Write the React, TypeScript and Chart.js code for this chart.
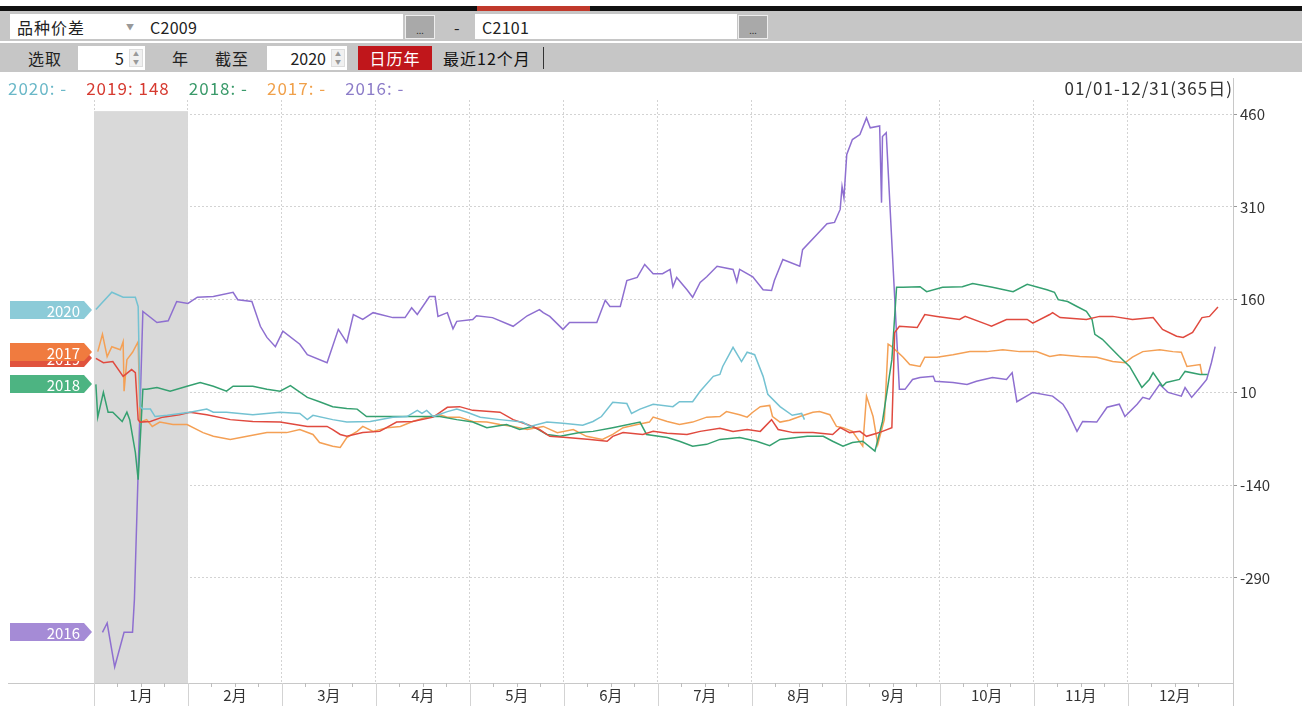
import React, { useEffect, useRef } from "react";
import { Chart, registerables } from "chart.js";
Chart.register(...registerables);

const FONT = '"Noto Sans CJK SC", "Noto Sans", sans-serif';

const monthLabels = ["1月", "2月", "3月", "4月", "5月", "6月", "7月", "8月", "9月", "10月", "11月", "12月"];
const yTickValues = [460, 310, 160, 10, -140, -290];
const yearNames = ["2020", "2019", "2018", "2017", "2016"];
const legendValues = ["-", "148", "-", "-", "-"];
const lineColors = ["#74c2d2", "#e04a3f", "#35a070", "#f4a055", "#8e6fd0"];
const legendColors = ["#6ab8c8", "#d63a30", "#3a9a6a", "#f0a04a", "#8c7cc8"];
const tagColors = ["#8ccbd8", "#e0533d", "#4db482", "#f07b3f", "#a58bd6"];

// x positions are in month units (0 = Jan 1, 1 = Feb 1, ...)
const pos2020 = [0.02, 0.19, 0.31, 0.44, 0.47, 0.49, 0.52, 0.6, 0.65, 0.78, 1.02, 1.2, 1.27, 1.41, 1.69, 1.98, 2.19, 2.27, 2.33, 2.54, 2.69, 2.94, 3.18, 3.33, 3.44, 3.49, 3.54, 3.61, 3.76, 3.86, 3.97, 4.11, 4.32, 4.56, 4.64, 4.82, 4.99, 5.2, 5.31, 5.4, 5.52, 5.67, 5.72, 5.81, 5.95, 6.16, 6.23, 6.37, 6.45, 6.59, 6.66, 6.69, 6.8, 6.89, 6.95, 7.03, 7.12, 7.17, 7.3, 7.43, 7.53, 7.56];
const val2020 = [144, 172, 164, 164, 149, -13, -17, -17, -29, -27, -22, -17, -22, -22, -26, -22, -24, -34, -27, -34, -38, -37, -30, -29, -19, -24, -19, -29, -21, -17, -22, -30, -34, -38, -45, -38, -40, -43, -37, -29, -6, -8, -24, -17, -9, -13, -5, -5, 12, 36, 39, 52, 83, 60, 75, 71, 36, 7, -13, -27, -24, -34];

const pos2019 = [0.02, 0.1, 0.2, 0.31, 0.4, 0.44, 0.47, 0.49, 0.6, 0.73, 0.91, 1.02, 1.2, 1.45, 1.69, 1.98, 2.27, 2.48, 2.54, 2.62, 2.69, 2.86, 3.04, 3.22, 3.39, 3.61, 3.76, 3.89, 4.03, 4.32, 4.46, 4.61, 4.74, 4.85, 5.03, 5.28, 5.46, 5.52, 5.63, 5.84, 5.95, 6.1, 6.31, 6.45, 6.66, 6.8, 6.95, 7.09, 7.21, 7.28, 7.44, 7.65, 7.86, 7.94, 8.04, 8.15, 8.22, 8.33, 8.39, 8.49, 8.52, 8.57, 8.76, 8.84, 8.97, 9.21, 9.27, 9.5, 9.55, 9.71, 9.93, 9.99, 10.17, 10.2, 10.28, 10.56, 10.7, 10.84, 11.05, 11.27, 11.37, 11.52, 11.59, 11.69, 11.79, 11.87, 11.96];
const val2019 = [65, 58, 60, 36, 47, 42, -34, -38, -37, -30, -26, -22, -26, -34, -37, -38, -45, -45, -50, -58, -61, -55, -53, -38, -37, -30, -14, -13, -19, -22, -34, -42, -50, -61, -63, -66, -69, -61, -55, -58, -53, -56, -58, -53, -48, -53, -50, -53, -34, -50, -55, -55, -58, -47, -55, -53, -61, -56, -53, -47, 107, 117, 115, 136, 133, 128, 133, 120, 117, 128, 128, 122, 136, 139, 131, 128, 133, 133, 128, 131, 112, 101, 99, 107, 131, 133, 148];

const pos2018 = [0.02, 0.04, 0.1, 0.15, 0.2, 0.3, 0.35, 0.38, 0.44, 0.47, 0.52, 0.56, 0.67, 0.81, 0.99, 1.13, 1.27, 1.41, 1.48, 1.69, 1.84, 1.98, 2.09, 2.27, 2.4, 2.54, 2.69, 2.8, 2.9, 3.07, 3.39, 3.68, 3.86, 4.03, 4.18, 4.39, 4.53, 4.67, 4.82, 4.96, 5.17, 5.31, 5.52, 5.81, 5.88, 6.1, 6.23, 6.37, 6.52, 6.66, 6.87, 7.05, 7.19, 7.3, 7.59, 7.76, 7.86, 7.97, 8.07, 8.18, 8.31, 8.39, 8.49, 8.54, 8.61, 8.79, 8.86, 9.03, 9.24, 9.35, 9.56, 9.78, 9.93, 10.14, 10.22, 10.26, 10.36, 10.46, 10.56, 10.62, 10.65, 10.73, 10.91, 11.02, 11.15, 11.23, 11.27, 11.37, 11.41, 11.55, 11.61, 11.77, 11.85];
const val2018 = [23, -30, 10, -22, -22, -37, -22, -34, -87, -131, 15, 15, 18, 12, 20, 26, 20, 12, 20, 20, 15, 12, 21, 2, -5, -13, -16, -17, -29, -29, -29, -29, -34, -38, -47, -42, -50, -45, -58, -61, -55, -53, -47, -38, -58, -63, -69, -77, -74, -66, -63, -69, -76, -66, -61, -61, -69, -77, -71, -69, -85, -37, 63, 180, 180, 181, 173, 180, 181, 186, 180, 173, 185, 176, 172, 160, 157, 149, 141, 128, 104, 96, 68, 52, 18, 31, 42, 20, 26, 31, 44, 39, 39];

const pos2017 = [0.04, 0.09, 0.14, 0.19, 0.28, 0.31, 0.32, 0.35, 0.41, 0.47, 0.49, 0.56, 0.62, 0.7, 0.84, 0.99, 1.16, 1.27, 1.45, 1.63, 1.84, 2.05, 2.19, 2.33, 2.4, 2.54, 2.62, 2.69, 2.8, 2.86, 2.97, 3.12, 3.26, 3.39, 3.54, 3.68, 3.76, 3.89, 4.03, 4.18, 4.32, 4.46, 4.61, 4.78, 4.93, 5.1, 5.24, 5.41, 5.52, 5.63, 5.78, 5.91, 5.95, 6.1, 6.23, 6.37, 6.52, 6.66, 6.73, 6.87, 6.95, 7.01, 7.09, 7.19, 7.22, 7.3, 7.4, 7.51, 7.65, 7.72, 7.83, 7.9, 7.97, 8.07, 8.18, 8.22, 8.29, 8.34, 8.41, 8.45, 8.49, 8.61, 8.68, 8.79, 8.84, 8.97, 9.14, 9.32, 9.5, 9.67, 9.85, 10.03, 10.17, 10.28, 10.49, 10.67, 10.84, 10.97, 11.05, 11.16, 11.34, 11.48, 11.57, 11.63, 11.77, 11.79];
const val2017 = [76, 104, 68, 84, 79, 92, 12, 63, 75, 92, -38, -34, -45, -38, -42, -42, -55, -61, -66, -61, -55, -55, -50, -58, -71, -77, -79, -63, -53, -45, -53, -47, -45, -37, -30, -26, -30, -30, -37, -38, -42, -45, -50, -45, -55, -50, -61, -66, -58, -47, -42, -38, -30, -37, -42, -38, -30, -29, -21, -26, -30, -22, -13, -11, -29, -38, -35, -29, -22, -21, -26, -45, -47, -53, -77, 4, -29, -74, -34, 88, 84, 67, 55, 52, 67, 67, 71, 76, 76, 79, 76, 76, 68, 71, 68, 67, 60, 58, 67, 76, 79, 76, 75, 52, 55, 39];

const pos2016 = [0.09, 0.14, 0.22, 0.32, 0.41, 0.43, 0.52, 0.67, 0.79, 0.88, 1.0, 1.1, 1.27, 1.48, 1.53, 1.68, 1.77, 1.84, 1.93, 2.01, 2.19, 2.27, 2.48, 2.6, 2.69, 2.76, 2.86, 2.97, 3.18, 3.31, 3.38, 3.44, 3.57, 3.63, 3.66, 3.76, 3.82, 3.86, 4.03, 4.07, 4.24, 4.46, 4.61, 4.74, 4.78, 4.85, 4.99, 5.06, 5.35, 5.44, 5.49, 5.6, 5.67, 5.78, 5.86, 5.95, 6.05, 6.13, 6.16, 6.2, 6.31, 6.37, 6.45, 6.52, 6.63, 6.8, 6.84, 6.87, 7.01, 7.12, 7.21, 7.24, 7.33, 7.51, 7.54, 7.72, 7.8, 7.88, 7.94, 7.96, 7.98, 8.01, 8.07, 8.15, 8.22, 8.26, 8.36, 8.38, 8.39, 8.43, 8.57, 8.63, 8.71, 8.79, 8.93, 8.95, 9.14, 9.29, 9.39, 9.56, 9.71, 9.77, 9.82, 9.99, 10.2, 10.31, 10.36, 10.46, 10.52, 10.67, 10.78, 10.91, 10.97, 11.1, 11.16, 11.23, 11.34, 11.43, 11.57, 11.61, 11.68, 11.77, 11.84, 11.89, 11.93];
const val2016 = [-378, -363, -434, -378, -378, -325, 141, 123, 126, 157, 154, 164, 165, 172, 160, 157, 117, 99, 84, 109, 88, 71, 58, 112, 91, 136, 128, 139, 131, 131, 147, 136, 165, 165, 133, 139, 113, 125, 128, 134, 131, 117, 134, 144, 139, 133, 112, 123, 123, 159, 149, 149, 191, 196, 217, 202, 202, 209, 181, 196, 176, 164, 188, 197, 214, 209, 189, 209, 197, 176, 175, 191, 225, 214, 241, 270, 283, 285, 306, 343, 325, 395, 419, 427, 454, 438, 441, 317, 424, 430, 15, 15, 31, 34, 36, 28, 26, 23, 28, 34, 31, 42, -5, 10, 4, -9, -21, -53, -37, -38, -14, -9, -29, -9, 2, -1, 23, 10, 4, 18, 2, 18, 31, 58, 84];

const seriesPos = [pos2020, pos2019, pos2018, pos2017, pos2016];
const seriesVal = [val2020, val2019, val2018, val2017, val2016];

const X_MIN = 0;
const X_MAX = 12.12;
const Y_MIN = -460;
const Y_MAX = 483;
const BAND_FROM = 0;
const BAND_TO = 1;
const BAND_TOP = 465;

const decorPlugin = {
  id: "decor",
  beforeDatasetsDraw(chart: any) {
    const { ctx, chartArea, scales } = chart;
    const x = scales.x, y = scales.y;
    const x0 = x.getPixelForValue(BAND_FROM);
    const x1 = x.getPixelForValue(BAND_TO);
    const yt = y.getPixelForValue(BAND_TOP);
    ctx.save();
    ctx.fillStyle = "#d9d9d9";
    ctx.fillRect(x0, yt, x1 - x0, chartArea.bottom - yt);
    ctx.restore();
  },
  afterDraw(chart: any) {
    const { ctx, chartArea, scales, height } = chart;
    const x = scales.x, y = scales.y;
    ctx.save();
    ctx.strokeStyle = "#c8c8c8";
    ctx.lineWidth = 1;
    ctx.beginPath();
    ctx.moveTo(8, chartArea.bottom + 0.5);
    ctx.lineTo(chartArea.left, chartArea.bottom + 0.5);
    ctx.stroke();
    ctx.strokeStyle = "#d3d3d3";
    for (let m = 0; m < 12; m++) {
      const px = Math.round(x.getPixelForValue(m)) + 0.5;
      ctx.beginPath();
      ctx.moveTo(px, chartArea.bottom);
      ctx.lineTo(px, height);
      ctx.stroke();
    }
    ctx.strokeStyle = "#bdbdbd";
    for (let q = 1; q < 48; q++) {
      if (q % 4 === 0) continue;
      const px = Math.round(x.getPixelForValue(q / 4)) + 0.5;
      ctx.beginPath();
      ctx.moveTo(px, chartArea.bottom);
      ctx.lineTo(px, chartArea.bottom + 4);
      ctx.stroke();
    }
    ctx.strokeStyle = "#c8c8c8";
    const rx = Math.round(chartArea.right) + 0.5;
    ctx.beginPath();
    ctx.moveTo(rx, 6);
    ctx.lineTo(rx, height);
    ctx.stroke();
    const order = [0, 2, 4, 1, 3];
    ctx.font = `15px ${FONT}`;
    ctx.textAlign = "right";
    ctx.textBaseline = "middle";
    for (const i of order) {
      const cy = Math.round(y.getPixelForValue(seriesVal[i][0]));
      const l = 10, r = 84, tip = 92, h = 9;
      ctx.fillStyle = tagColors[i];
      ctx.beginPath();
      ctx.moveTo(l, cy - h);
      ctx.lineTo(r, cy - h);
      ctx.lineTo(tip, cy);
      ctx.lineTo(r, cy + h);
      ctx.lineTo(l, cy + h);
      ctx.closePath();
      ctx.fill();
      ctx.fillStyle = "#ffffff";
      ctx.fillText(yearNames[i], 80, cy + 1);
    }
    ctx.restore();
  },
};

function Spinner() {
  return (
    <div style={{ position: "absolute", right: 2, top: 3, width: 14, height: 18, background: "#f0f0f0", border: "1px solid #ddd", boxSizing: "border-box", fontSize: 6, lineHeight: "8px", color: "#999", textAlign: "center" }}>
      <div>▲</div>
      <div>▼</div>
    </div>
  );
}

function DotsButton({ left }: { left: number }) {
  return (
    <div style={{ position: "absolute", left, top: 15, width: 30, height: 24, background: "#a9a9a9", border: "1px solid #eeeeee", boxSizing: "border-box", fontSize: 9, color: "#333", textAlign: "center", lineHeight: "30px" }}>...</div>
  );
}

export default function App() {
  const canvasRef = useRef<HTMLCanvasElement | null>(null);

  useEffect(() => {
    document.body.style.margin = "0";
    const canvas = canvasRef.current;
    if (!canvas) return;
    const datasets = yearNames.map((name, i) => ({
      label: name,
      data: seriesPos[i].map((p, k) => ({ x: p, y: seriesVal[i][k] })),
      borderColor: lineColors[i],
      backgroundColor: lineColors[i],
      borderWidth: 1.5,
      pointRadius: 0,
      tension: 0,
      fill: false,
    }));
    const chart = new Chart(canvas, {
      type: "line",
      data: { datasets },
      options: {
        animation: false,
        responsive: false,
        maintainAspectRatio: false,
        layout: { padding: { top: 28, left: 94, right: 0, bottom: 0 } },
        plugins: { legend: { display: false }, tooltip: { enabled: false } },
        scales: {
          x: {
            type: "linear",
            min: X_MIN,
            max: X_MAX,
            afterBuildTicks: (s: any) => {
              const arr: any[] = [];
              for (let m = 0; m < 12; m++) {
                arr.push({ value: m });
                arr.push({ value: m + 0.5 });
              }
              s.ticks = arr;
            },
            afterFit: (s: any) => {
              s.height = 23;
            },
            grid: {
              color: (c: any) => (c.tick && Number.isInteger(c.tick.value) ? "#d3d3d3" : "rgba(0,0,0,0)"),
              drawTicks: false,
            },
            border: { display: true, color: "#c8c8c8", dash: [2, 2] },
            ticks: {
              autoSkip: false,
              maxRotation: 0,
              padding: 3,
              color: "#333333",
              font: { size: 15, family: FONT },
              callback: (v: any) => (Number.isInteger(v) ? "" : monthLabels[Math.floor(v)]),
            },
          },
          y: {
            position: "right",
            min: Y_MIN,
            max: Y_MAX,
            afterBuildTicks: (s: any) => {
              s.ticks = yTickValues.slice().sort((a, b) => a - b).map((v) => ({ value: v }));
            },
            afterFit: (s: any) => {
              s.width = 69;
            },
            grid: { color: "#d3d3d3", tickColor: "#999999", tickLength: 4, tickBorderDash: [] },
            border: { display: true, color: "#c8c8c8", dash: [2, 2] },
            ticks: {
              padding: 3,
              color: "#333333",
              font: { size: 15, family: FONT },
              callback: (v: any) => String(v),
            },
          },
        },
      },
      plugins: [decorPlugin],
    } as any);
    return () => chart.destroy();
  }, []);

  const txt = { position: "absolute" as const, fontSize: 16, lineHeight: "20px", letterSpacing: 1, color: "#222", whiteSpace: "nowrap" as const };

  return (
    <div style={{ position: "relative", width: 1302, height: 706, overflow: "hidden", background: "#fff", fontFamily: FONT }}>
      <div style={{ position: "absolute", left: 0, top: 6, width: 1302, height: 5, background: "#111" }} />
      <div style={{ position: "absolute", left: 477, top: 6, width: 113, height: 5, background: "#c0392b" }} />
      <div style={{ position: "absolute", left: 0, top: 11, width: 1302, height: 30, background: "#c6c6c6" }} />
      <div style={{ position: "absolute", left: 10, top: 14, width: 393, height: 25, background: "#fff" }} />
      <div style={{ ...txt, left: 17, top: 17 }}>品种价差</div>
      <div style={{ ...txt, left: 126, top: 17, fontSize: 8, color: "#999" }}>▼</div>
      <div style={{ ...txt, left: 150, top: 17, letterSpacing: 0.3 }}>C2009</div>
      <DotsButton left={405} />
      <div style={{ ...txt, left: 454, top: 17 }}>-</div>
      <div style={{ position: "absolute", left: 475, top: 14, width: 262, height: 25, background: "#fff" }} />
      <div style={{ ...txt, left: 482, top: 17, letterSpacing: 0.3 }}>C2101</div>
      <DotsButton left={738} />
      <div style={{ position: "absolute", left: 0, top: 43, width: 1302, height: 29, background: "#c6c6c6" }} />
      <div style={{ ...txt, left: 28, top: 48 }}>选取</div>
      <div style={{ position: "absolute", left: 78, top: 46, width: 67, height: 24, background: "#fff" }}>
        <div style={{ ...txt, right: 21, top: 2, letterSpacing: 0 }}>5</div>
        <Spinner />
      </div>
      <div style={{ ...txt, left: 172, top: 48 }}>年</div>
      <div style={{ ...txt, left: 215, top: 48 }}>截至</div>
      <div style={{ position: "absolute", left: 267, top: 46, width: 80, height: 24, background: "#fff" }}>
        <div style={{ ...txt, right: 21, top: 2, letterSpacing: 0 }}>2020</div>
        <Spinner />
      </div>
      <div style={{ position: "absolute", left: 358, top: 46, width: 74, height: 24, background: "#c0161b", color: "#fff", fontSize: 16, letterSpacing: 1, textAlign: "center", lineHeight: "24px" }}>日历年</div>
      <div style={{ ...txt, left: 443, top: 48, color: "#111" }}>最近12个月</div>
      <div style={{ position: "absolute", left: 543, top: 47, width: 1, height: 22, background: "#333" }} />
      <canvas ref={canvasRef} width={1302} height={634} style={{ position: "absolute", left: 0, top: 72, width: 1302, height: 634 }} />
      <div style={{ position: "absolute", left: 8, top: 78, display: "flex", gap: 19, fontSize: 17, lineHeight: "20px", letterSpacing: 1, whiteSpace: "nowrap" }}>
        {yearNames.map((n, i) => (
          <span key={n} style={{ color: legendColors[i] }}>{`${n}: ${legendValues[i]}`}</span>
        ))}
      </div>
      <div style={{ position: "absolute", right: 69, top: 78, fontSize: 17, lineHeight: "20px", letterSpacing: 1, color: "#333", whiteSpace: "nowrap" }}>01/01-12/31(365日)</div>
    </div>
  );
}
